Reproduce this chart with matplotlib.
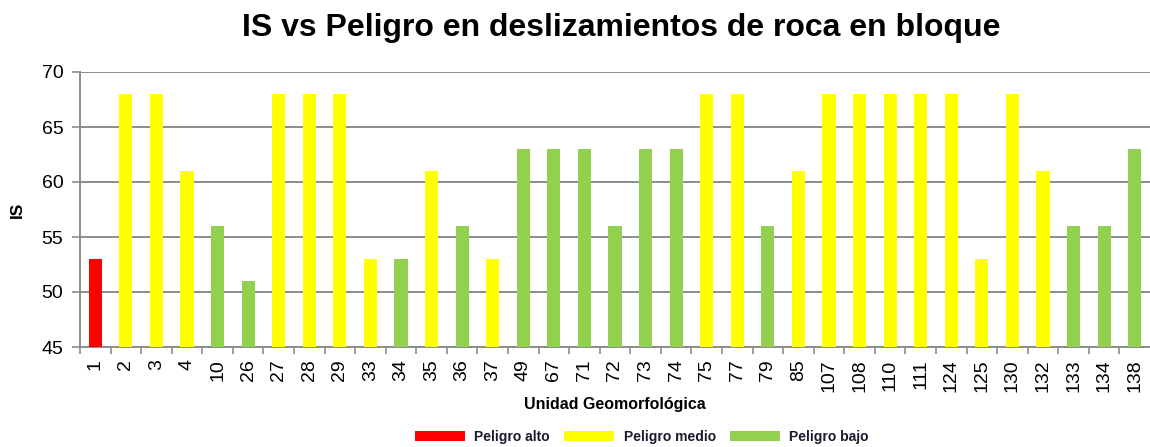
import matplotlib.pyplot as plt
from matplotlib.patches import Patch

# Unidades geomorfológicas, índice IS y nivel de peligro
unidades = ["1", "2", "3", "4", "10", "26", "27", "28", "29", "33", "34", "35",
            "36", "37", "49", "67", "71", "72", "73", "74", "75", "77", "79", "85",
            "107", "108", "110", "111", "124", "125", "130", "132", "133", "134", "138"]
is_vals = [53, 68, 68, 61, 56, 51, 68, 68, 68, 53, 53, 61,
           56, 53, 63, 63, 63, 56, 63, 63, 68, 68, 56, 61,
           68, 68, 68, 68, 68, 53, 68, 61, 56, 56, 63]
peligro = ["alto", "medio", "medio", "medio", "bajo", "bajo", "medio", "medio", "medio", "medio", "bajo", "medio",
           "bajo", "medio", "bajo", "bajo", "bajo", "bajo", "bajo", "bajo", "medio", "medio", "bajo", "medio",
           "medio", "medio", "medio", "medio", "medio", "medio", "medio", "medio", "bajo", "bajo", "bajo"]

colores = {"alto": "#ff0000", "medio": "#ffff00", "bajo": "#92d050"}
etiquetas = {"alto": "Peligro alto", "medio": "Peligro medio", "bajo": "Peligro bajo"}

plt.rcParams['font.family'] = ['Liberation Sans', 'DejaVu Sans']

fig = plt.figure(figsize=(11.5, 4.47), dpi=100)
ax = fig.add_axes([80 / 1150, 1 - 347 / 447, 1 - 80 / 1150, (347 - 72) / 447])

x = list(range(len(unidades)))
ax.bar(x, is_vals, width=0.43, color=[colores[p] for p in peligro], zorder=3)

ax.set_ylim(45, 70)
ax.set_xlim(-0.5, len(unidades) - 0.5)
ax.set_yticks(range(45, 71, 5))
ax.yaxis.grid(True, color="#8c8c8c", linewidth=1.4, zorder=0)

# separadores entre categorías en el eje x
ax.set_xticks([i - 0.5 for i in range(len(unidades))], minor=False)
ax.set_xticklabels([])
ax.set_xticks(x, minor=True)
ax.set_xticklabels(unidades, minor=True, rotation=90, fontsize=14)
ax.tick_params(axis="x", which="minor", length=0, pad=9)
ax.tick_params(axis="x", which="major", length=5, color="#8c8c8c", width=1.2)
ax.tick_params(axis="y", labelsize=14, length=6, color="#8c8c8c", width=1.2, pad=6)

for s in ["top", "right"]:
    ax.spines[s].set_visible(False)
for s in ["left", "bottom"]:
    ax.spines[s].set_color("#8c8c8c")
    ax.spines[s].set_linewidth(1.4)

ax.set_ylabel("IS", fontsize=12.5, fontweight="bold", labelpad=12)
fig.text(0.535, 1 - 405 / 447, "Unidad Geomorfológica", ha="center", va="center",
         fontsize=11.5, fontweight="bold")
fig.text(0.54, 1 - 28 / 447, "IS vs Peligro en deslizamientos de roca en bloque",
         ha="center", va="center", fontsize=23, fontweight="bold")

handles = [Patch(facecolor=colores[k], label=etiquetas[k]) for k in ["alto", "medio", "bajo"]]
fig.legend(handles=handles, loc="center", bbox_to_anchor=(0.558, 1 - 437 / 447), ncol=3,
           frameon=False, prop={"size": 10, "weight": "bold"}, handlelength=3.6,
           handleheight=0.8, columnspacing=1.0, handletextpad=0.7, labelcolor="#1a1a2e")

fig.savefig("out.png", dpi=100)
